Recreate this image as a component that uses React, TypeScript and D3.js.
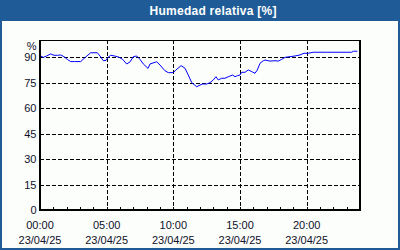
import React from "react";
import * as d3 from "d3";

const hours: number[] = [0.05,0.25,0.5,0.8,1.05,1.3,1.55,1.8,2.05,2.3,2.6,3.05,3.4,3.8,4.3,4.5,4.75,4.95,5.1,5.3,5.6,5.95,6.2,6.5,6.75,7.0,7.25,7.5,7.75,8.1,8.25,8.75,9.0,9.375,9.62,10.0,10.2,10.58,10.875,11.12,11.38,11.75,12.0,12.2,12.5,12.75,13.0,13.2,13.37,13.63,13.875,14.12,14.45,14.625,14.8,15.0,15.13,15.375,15.62,15.88,16.125,16.3,16.5,16.75,16.875,17.25,17.625,17.87,18.13,18.375,18.75,19.125,19.5,19.8,20.12,20.5,21.5,23.375,23.5,23.8];
const humidity: number[] = [90.6,89.8,90.6,91.8,91.0,91.0,91.2,90.2,88.6,87.3,87.3,87.3,89.8,92.5,92.5,90.6,87.8,88.0,89.8,91.0,90.6,89.8,88.6,85.9,87.1,90.2,90.6,88.6,85.9,83.3,85.9,87.2,85.3,81.9,80.8,80.8,82.4,84.9,83.4,79.4,74.9,72.5,73.5,74.1,74.1,74.9,76.5,78.4,76.5,77.5,77.5,78.4,79.4,78.4,79.0,79.4,81.0,81.0,82.4,81.4,80.4,82.4,86.3,87.8,88.2,87.6,87.8,87.6,88.6,89.8,90.2,90.6,91.2,92.2,92.2,92.8,92.8,92.8,93.4,93.4];
const yTicks: number[] = [0, 15, 30, 45, 60, 75, 90];
const xTickHours: number[] = [0, 5, 10, 15, 20];
const xTimeLabels: string[] = ["00:00", "05:00", "10:00", "15:00", "20:00"];
const dateLabel = "23/04/25";
const title = "Humedad relativa [%]";
const unit = "%";

export default function App() {
  const W = 400, H = 250;
  const left = 40, right = 360, top = 40, bottom = 210;
  const x = d3.scaleLinear().domain([0, 24]).range([left, right]);
  const y = d3.scaleLinear().domain([0, 100]).range([bottom, top]);
  const data = hours.map((h, i) => [h, humidity[i]] as [number, number]);
  const line = d3.line<[number, number]>().x(d => x(d[0])).y(d => y(d[1]));
  const minor = d3.range(1, 24);
  const font = "'Liberation Sans', Arial, sans-serif";
  const txt = "#10102a";
  return (
    <svg width={W} height={H} style={{ position: "absolute", left: 0, top: 0 }} fontFamily={font}>
      <rect x={0} y={0} width={W} height={H} fill="#1f5c97" />
      <rect x={2} y={21} width={W - 4} height={H - 23} fill="#fcfefc" />
      <text x={213} y={15} fill="#ffffff" fontWeight="bold" fontSize={12} textAnchor="middle" textLength={127} lengthAdjust="spacing">{title}</text>
      {yTicks.filter(v => v > 0).map(v => (
        <line key={"hy" + v} x1={left} x2={right} y1={Math.round(y(v)) + 0.5} y2={Math.round(y(v)) + 0.5} stroke="#000" strokeDasharray="4,2" />
      ))}
      {xTickHours.filter(h => h > 0).map(h => (
        <line key={"vx" + h} x1={Math.round(x(h)) + 0.5} x2={Math.round(x(h)) + 0.5} y1={top} y2={bottom} stroke="#000" strokeDasharray="4,2" />
      ))}
      {minor.map(h => (
        <line key={"m" + h} x1={Math.round(x(h)) + 0.5} x2={Math.round(x(h)) + 0.5} y1={bottom - 3} y2={bottom} stroke="#000" />
      ))}
      <path d={line(data) || ""} fill="none" stroke="#0000ff" strokeWidth={1} />
      <line x1={left} x2={left} y1={top} y2={bottom + 1} stroke="#000" strokeWidth={2} />
      <line x1={left} x2={right + 1} y1={top + 0.5} y2={top + 0.5} stroke="#000" />
      <line x1={right} x2={right} y1={top} y2={bottom + 1} stroke="#000" strokeWidth={2} />
      <line x1={left - 1} x2={right + 1} y1={bottom} y2={bottom} stroke="#000" strokeWidth={2} />
      {yTicks.map(v => (
        <text key={"ty" + v} x={36.5} y={y(v) + 4} fontSize={11} fill={txt} textAnchor="end">{v}</text>
      ))}
      <text x={36.5} y={50} fontSize={11} fill={txt} textAnchor="end">{unit}</text>
      {xTickHours.map((h, i) => (
        <g key={"tx" + h}>
          <text x={x(h)} y={229} fontSize={11} fill={txt} textAnchor="middle">{xTimeLabels[i]}</text>
          <text x={x(h)} y={244} fontSize={11} fill={txt} textAnchor="middle">{dateLabel}</text>
        </g>
      ))}
    </svg>
  );
}
